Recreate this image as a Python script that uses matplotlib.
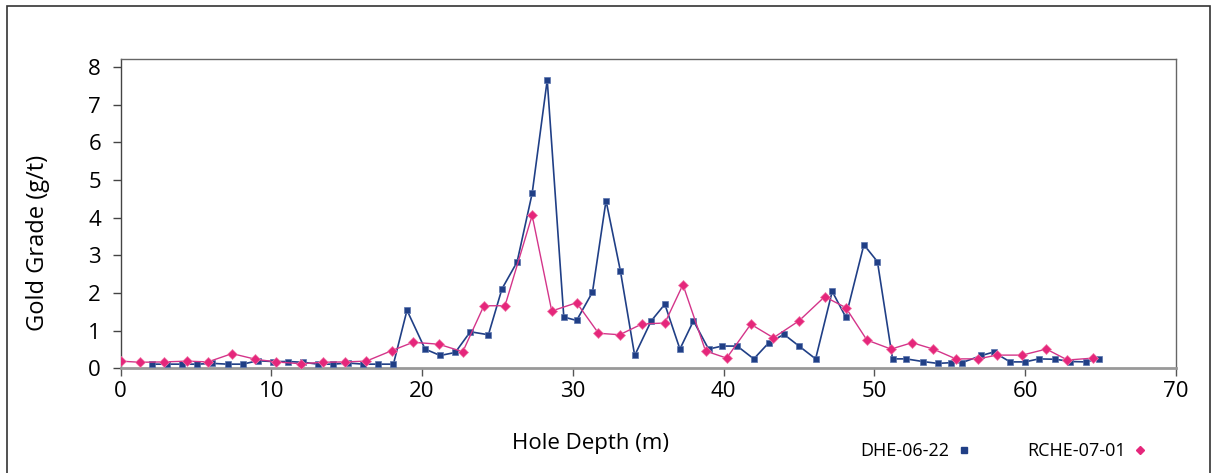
import matplotlib
matplotlib.use('Agg')
import matplotlib.pyplot as plt
from matplotlib.lines import Line2D
from matplotlib.patches import Rectangle

plt.rcParams['font.family'] = ['Open Sans', 'DejaVu Sans']

# DHE-06-22 (depth m, grade g/t)
dhe_depth = [2.1, 3.1, 4.1, 5.1, 6.1, 7.1, 8.1, 9.1, 10.1, 11.1, 12.1, 13.1, 14.1,
             15.1, 16.1, 17.1, 18.1, 19.0, 20.2, 21.2, 22.2, 23.2, 24.4, 25.3, 26.3,
             27.3, 28.3, 29.4, 30.25, 31.3, 32.2, 33.15, 34.1, 35.2, 36.1, 37.1, 38.0,
             39.0, 39.9, 40.9, 42.0, 43.0, 44.0, 45.0, 46.1, 47.2, 48.1, 49.3, 50.2,
             51.2, 52.1, 53.2, 54.2, 55.1, 55.8, 57.1, 57.9, 59.0, 60.0, 60.9, 62.0,
             63.0, 64.0, 64.9]
dhe_grade = [0.11, 0.11, 0.11, 0.11, 0.13, 0.11, 0.11, 0.2, 0.18, 0.18, 0.16, 0.11, 0.11,
             0.14, 0.11, 0.11, 0.11, 1.54, 0.51, 0.34, 0.42, 0.97, 0.89, 2.11, 2.82,
             4.64, 7.65, 1.36, 1.27, 2.02, 4.45, 2.59, 0.34, 1.26, 1.70, 0.51, 1.26,
             0.51, 0.59, 0.59, 0.25, 0.68, 0.90, 0.59, 0.25, 2.04, 1.36, 3.28, 2.83,
             0.25, 0.25, 0.18, 0.13, 0.15, 0.15, 0.34, 0.43, 0.17, 0.17, 0.25, 0.24,
             0.18, 0.17, 0.25]

# RCHE-07-01 (depth m, grade g/t)
rche_depth = [0.0, 1.3, 2.9, 4.4, 5.8, 7.4, 8.95, 10.3, 12.0, 13.4, 14.9, 16.3, 18.0,
              19.4, 21.1, 22.7, 24.1, 25.5, 27.3, 28.6, 30.25, 31.7, 33.1, 34.6, 36.1,
              37.3, 38.8, 40.2, 41.8, 43.3, 45.0, 46.7, 48.1, 49.5, 51.1, 52.5, 53.9,
              55.4, 56.9, 58.1, 59.8, 61.4, 62.8, 64.5]
rche_grade = [0.19, 0.16, 0.17, 0.19, 0.17, 0.39, 0.24, 0.17, 0.12, 0.16, 0.17, 0.19, 0.47,
              0.69, 0.64, 0.44, 1.66, 1.66, 4.06, 1.52, 1.74, 0.93, 0.89, 1.18, 1.20,
              2.22, 0.46, 0.27, 1.17, 0.81, 1.26, 1.90, 1.61, 0.75, 0.51, 0.68, 0.51,
              0.25, 0.25, 0.35, 0.35, 0.51, 0.22, 0.27]

x_ticks = [0, 10, 20, 30, 40, 50, 60, 70]
y_ticks = [0, 1, 2, 3, 4, 5, 6, 7, 8]

blue = '#203f86'
pink = '#e5267b'

W, H = 1213, 473
fig = plt.figure(figsize=(W / 100, H / 100), dpi=100)
ax = fig.add_axes([120.5 / W, 1 - 368.3 / H, (1176 - 120.5) / W, (368.3 - 59.3) / H])

ax.plot(dhe_depth, dhe_grade, color=blue, lw=1.2, marker='s', ms=5,
        mfc=blue, mec='#5a74ad', mew=0.5, zorder=3)
ax.plot(rche_depth, rche_grade, color='#d4358a', lw=1.0, marker='D', ms=5,
        mfc=pink, mec='#f07aa8', mew=0.5, zorder=4)

ax.set_xlim(0, 70)
ax.set_ylim(0, 8.2)
ax.set_xticks(x_ticks)
ax.set_yticks(y_ticks)
ax.tick_params(axis='both', labelsize=16, length=6, width=1.0, direction='out')
ax.tick_params(axis='x', colors='#555555', labelcolor='black', pad=3)
ax.tick_params(axis='y', colors='#444444', labelcolor='black', pad=8)

for s in ['top', 'right']:
    ax.spines[s].set_color('#666666')
    ax.spines[s].set_linewidth(1.0)
ax.spines['left'].set_color('#444444')
ax.spines['left'].set_linewidth(1.0)
ax.spines['bottom'].set_color('#999999')
ax.spines['bottom'].set_linewidth(2.0)

fig.text(38 / W, 1 - 243 / H, 'Gold Grade (g/t)', fontsize=17, rotation=90,
         ha='center', va='center')
fig.text(590 / W, 1 - 443 / H, 'Hole Depth (m)', fontsize=16, ha='center', va='center')

handles = [Line2D([], [], ls='none', marker='s', ms=4, color=blue),
           Line2D([], [], ls='none', marker='D', ms=4, color=pink)]
fig.legend(handles, ['DHE-06-22', 'RCHE-07-01'], loc='center',
           bbox_to_anchor=(1003 / W, 1 - 451 / H), ncol=2, frameon=False,
           markerfirst=False, fontsize=13, handlelength=0.6, handletextpad=0.5,
           columnspacing=3.2)

# outer frame
fig.patches.append(Rectangle((7 / W, -0.05), (1210 - 7) / W, 1.05 - 6 / H,
                             transform=fig.transFigure, fill=False,
                             ec='#333333', lw=1.2))

fig.savefig('out.png', dpi=100)
